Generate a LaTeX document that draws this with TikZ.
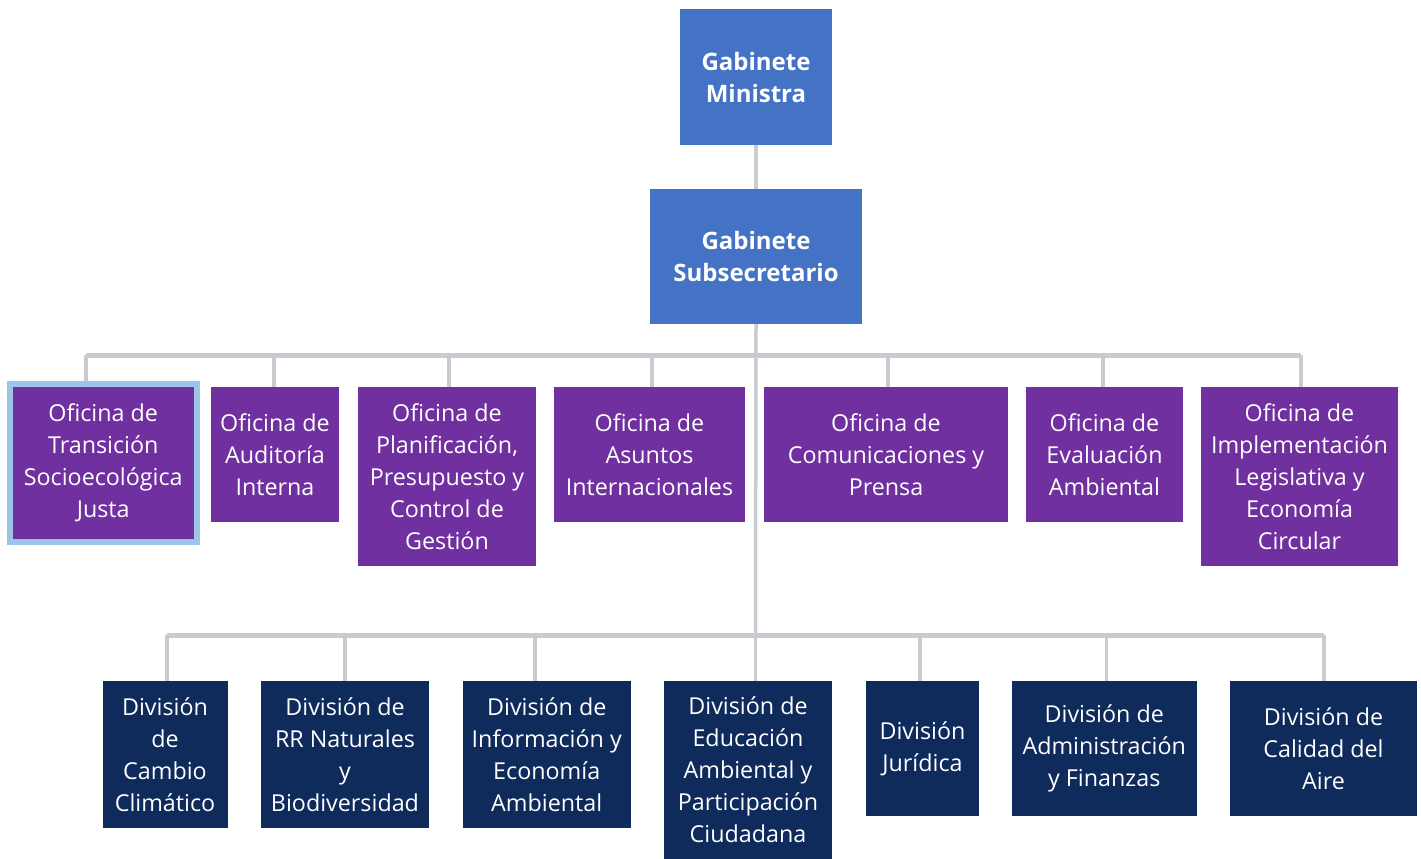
\documentclass[tikz,border=0pt]{standalone}
\usepackage{fontspec}
\setmainfont{Open Sans}
\definecolor{topblue}{RGB}{68,114,196}
\definecolor{offpurple}{RGB}{112,48,160}
\definecolor{divnavy}{RGB}{14,43,92}
\definecolor{hiblue}{RGB}{157,197,234}
\definecolor{linegray}{RGB}{200,204,209}
\begin{document}
\begin{tikzpicture}[x=1pt,y=-1pt,
  box/.style={rectangle, inner sep=0pt, align=center, text=white,
    font=\fontsize{23.3}{32}\selectfont},
  topbox/.style={box, fill=topblue, font=\fontsize{24}{32}\selectfont\bfseries},
  offbox/.style={box, fill=offpurple},
  divbox/.style={box, fill=divnavy},
  conn/.style={draw=linegray, line width=3.5pt},
  barline/.style={draw=linegray, line width=5pt}]
\useasboundingbox (0,0) rectangle (1421,859);
\fill[white] (0,0) rectangle (1421,859);

% connector coordinates
\coordinate (t1) at (86,355);
\coordinate (t2) at (274,355);
\coordinate (t3) at (449,355);
\coordinate (t4) at (652,355);
\coordinate (t5) at (888,355);
\coordinate (t6) at (1103,355);
\coordinate (t7) at (1301,355);
\coordinate (uA) at (167,635);
\coordinate (uB) at (345,635);
\coordinate (uC) at (535,635);
\coordinate (uD) at (755.5,635);
\coordinate (uE) at (920,635);
\coordinate (uF) at (1106.5,635);
\coordinate (uG) at (1324,635);

% top
\node[topbox, minimum width=152pt, minimum height=136pt] (min) at (756,77) {Gabinete\\Ministra};
\node[topbox, minimum width=212pt, minimum height=135pt] (sub) at (756,256.5) {Gabinete\\Subsecretario};

% offices
\node[offbox, draw=hiblue, line width=6pt, minimum width=186.5pt, minimum height=158pt] (o1) at (103.25,462.5) {Oficina de\\Transición\\Socioecológica\\Justa};
\node[offbox, minimum width=128pt, minimum height=135pt] (o2) at (275,454.5) {Oficina de\\Auditoría\\Interna};
\node[offbox, minimum width=178pt, minimum height=179pt] (o3) at (447,476.5) {Oficina de\\Planificación,\\Presupuesto y\\Control de\\Gestión};
\node[offbox, minimum width=191pt, minimum height=135pt] (o4) at (649.5,454.5) {Oficina de\\Asuntos\\Internacionales};
\node[offbox, minimum width=244pt, minimum height=135pt] (o5) at (886,454.5) {Oficina de\\Comunicaciones y\\Prensa};
\node[offbox, minimum width=157pt, minimum height=135pt] (o6) at (1104.5,454.5) {Oficina de\\Evaluación\\Ambiental};
\node[offbox, minimum width=197pt, minimum height=179pt] (o7) at (1299.5,476.5) {Oficina de\\Implementación\\Legislativa y\\Economía\\Circular};

% divisions
\node[divbox, minimum width=125pt, minimum height=147pt] (dA) at (165,754.5) {División\\de\\Cambio\\Climático};
\node[divbox, minimum width=168pt, minimum height=147pt] (dB) at (345,754.5) {División de\\RR Naturales\\y\\Biodiversidad};
\node[divbox, minimum width=168.5pt, minimum height=147pt] (dC) at (546.75,754.5) {División de\\Información y\\Economía\\Ambiental};
\node[divbox, minimum width=168pt, minimum height=178pt] (dD) at (748,770) {División de\\Educación\\Ambiental y\\Participación\\Ciudadana};
\node[divbox, minimum width=113pt, minimum height=135pt] (dE) at (922.5,748.5) {División\\Jurídica};
\node[divbox, minimum width=185.5pt, minimum height=135pt] (dF) at (1104.25,748.5) {División de\\Administración\\y Finanzas};
\node[divbox, minimum width=187pt, minimum height=135pt] (dG) at (1323.5,748.5) {División de\\Calidad del\\Aire};

% connectors
\draw[conn] (min.south) -- (sub.north);
\draw[conn] (sub.south) -- (uD);
\draw[barline] (t1) -- (t7);
\draw[barline] (uA) -- (uG);
\foreach \t/\o in {t1/o1,t2/o2,t3/o3,t4/o4,t5/o5,t6/o6,t7/o7}
  \draw[conn] (\t) -- (\t |- \o.north);
\foreach \u/\d in {uA/dA,uB/dB,uC/dC,uD/dD,uE/dE,uF/dF,uG/dG}
  \draw[conn] (\u) -- (\u |- \d.north);
\end{tikzpicture}
\end{document}
